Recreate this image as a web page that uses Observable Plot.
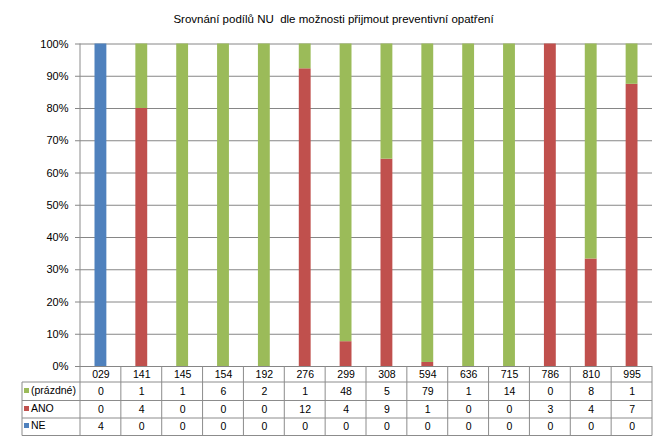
<!DOCTYPE html>
<html><head><meta charset="utf-8">
<script src="https://cdn.jsdelivr.net/npm/d3@7"></script>
<script src="https://cdn.jsdelivr.net/npm/@observablehq/plot@0.6"></script>
<style>
body{margin:0;background:#fff}
svg{font-family:"Liberation Sans",Arial,sans-serif}
</style>
</head><body><div id="chart"></div>
<script>
const title = "Srovnání podílů NU  dle možnosti přijmout preventivní opatření";
const categories = ["029","141","145","154","192","276","299","308","594","636","715","786","810","995"];
const seriesNames = ["(prázdné)","ANO","NE"];
const prazdne = [0,1,1,6,2,1,48,5,79,1,14,0,8,1];
const ano =     [0,4,0,0,0,12,4,9,1,0,0,3,4,7];
const ne =      [4,0,0,0,0,0,0,0,0,0,0,0,0,0];
const seriesColors = ["#9BBB59","#C0504D","#4F81BD"];
const yTicks = [0,0.1,0.2,0.3,0.4,0.5,0.6,0.7,0.8,0.9,1];

const seriesValues = [prazdne, ano, ne];
// stacked data: bottom series first (NE, ANO, (prázdné))
const data = [];
categories.forEach((c, i) => {
  for (let s = seriesNames.length - 1; s >= 0; s--) {
    data.push({cat: c, series: seriesNames[s], value: seriesValues[s][i]});
  }
});
const rowOffsets = [25, 43, 60];
const tableRows = seriesNames.map((name, s) =>
  categories.map((c, i) => ({cat: c, v: seriesValues[s][i]})));

const W = 667, H = 442;
const chart = Plot.plot({
  width: W, height: H,
  marginLeft: 80, marginRight: 15, marginTop: 43.5, marginBottom: 76,
  style: {fontSize: "11px", color: "#000", background: "#fff"},
  x: {domain: categories, padding: 0, round: false, axis: null},
  y: {domain: [0, 1], ticks: yTicks, tickFormat: d3.format(".0%"), tickSize: 0, tickPadding: 12, label: null},
  color: {domain: seriesNames, range: seriesColors},
  marks: [
    Plot.ruleY(yTicks, {stroke: "#868686", insetLeft: -5}),
    Plot.barY(data, Plot.stackY({x: "cat", y: "value", fill: "series", offset: "normalize", insetLeft: 14.5, insetRight: 14.5})),
    Plot.text(categories, {x: d => d, y: 0, dy: 8, text: d => d, fontSize: 10.5}),
    ...tableRows.map((rows, s) => Plot.text(rows, {x: "cat", y: 0, dy: rowOffsets[s], text: "v", fontSize: 10.5}))
  ]
});
document.getElementById("chart").appendChild(chart);

const sx = chart.scale("x"), sy = chart.scale("y");
const svg = d3.select(chart);
const first = sx.apply(categories[0]);
const step = sx.bandwidth || (sx.apply(categories[1]) - first);
const x0 = first;
const x1 = sx.apply(categories[categories.length - 1]) + step;
const yBase = sy.apply(0);
const yTop = sy.apply(1);
const tableLeft = 22;
const rowLines = [yBase + 16, yBase + 34.5, yBase + 52, yBase + 69.5];
const g = svg.append("g");
function line(xa, ya, xb, yb) {
  g.append("line").attr("x1", xa).attr("y1", ya).attr("x2", xb).attr("y2", yb)
    .attr("stroke", "#8c8c8c").attr("stroke-width", 1);
}
// axis line
line(x0, yTop, x0, rowLines[3]);
// vertical column lines
categories.forEach(c => {
  const xr = sx.apply(c) + step;
  line(xr, yBase, xr, rowLines[3]);
});
line(tableLeft, rowLines[0], tableLeft, rowLines[3]);
rowLines.forEach(y => line(tableLeft, y, x1, y));
// row labels with legend keys
seriesNames.forEach((name, s) => {
  const cy = yBase + rowOffsets[s];
  svg.append("rect").attr("x", 24).attr("y", cy - 3).attr("width", 5).attr("height", 5).attr("fill", seriesColors[s]);
  svg.append("text").attr("x", 31).attr("y", cy).attr("dy", "0.32em").attr("text-anchor", "start")
    .attr("font-size", 10.5).attr("fill", "#000").text(name);
});
// title
svg.append("text").attr("x", W / 2).attr("y", 19).attr("text-anchor", "middle").attr("dy", "0.32em")
  .attr("font-size", 11.5).attr("fill", "#000").text(title);
</script>
</body></html>
